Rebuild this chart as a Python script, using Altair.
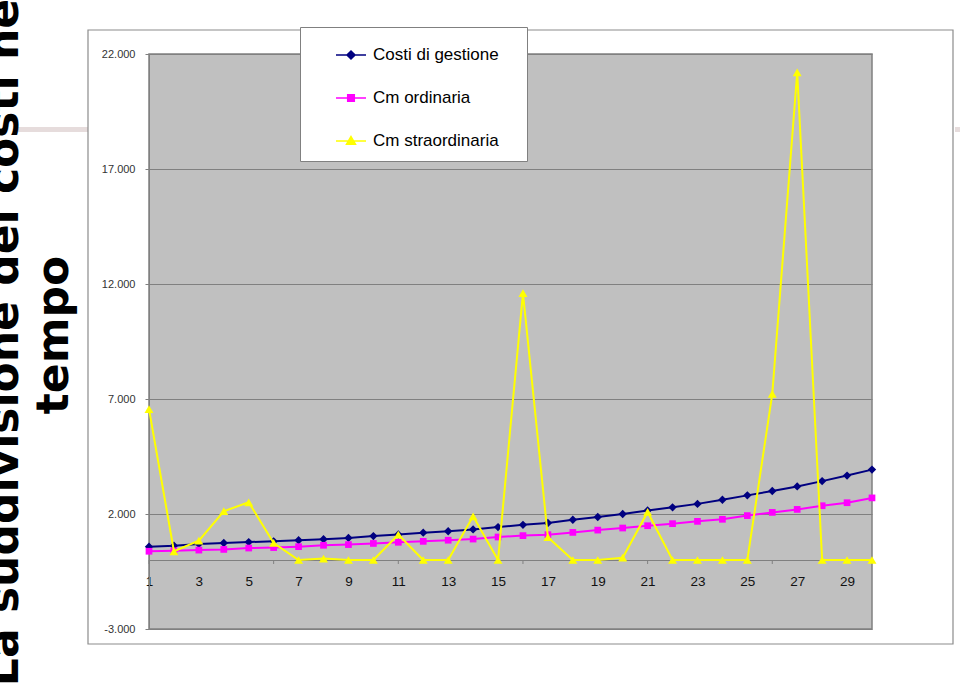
import altair as alt
import pandas as pd

# ---- data ----
anni = list(range(1, 31))
costi_gestione = [580, 620, 700, 740, 780, 810, 860, 900, 960, 1040,
                  1110, 1190, 1250, 1330, 1430, 1530, 1610, 1750, 1870, 2000,
                  2150, 2290, 2440, 2620, 2810, 3000, 3200, 3430, 3670, 3930]
cm_ordinaria = [380, 400, 430, 460, 520, 540, 580, 640, 670, 720,
                770, 810, 860, 910, 1000, 1060, 1100, 1200, 1300, 1390,
                1490, 1580, 1680, 1770, 1930, 2070, 2200, 2360, 2490, 2700]
cm_straordinaria = [6560, 380, 840, 2120, 2510, 740, 0, 60, 0, 0,
                    1100, 0, 0, 1900, 0, 11600, 990, 0, 0, 100,
                    2090, 0, 0, 0, 0, 7220, 21200, 0, 0, 0]

serie = ["Costi di gestione", "Cm ordinaria", "Cm straordinaria"]
colori = ["#000080", "#FF00FF", "#FFFF00"]
forme = ["diamond", "square", "triangle-up"]
forme_legenda = [
    "M-1,0L1,0M0,-0.27L0.27,0L0,0.27L-0.27,0Z",
    "M-1,0L1,0M-0.22,-0.22L0.22,-0.22L0.22,0.22L-0.22,0.22Z",
    "M-1,0L1,0M0,-0.3L0.3,0.22L-0.3,0.22Z",
]
y_ticks = [-3000, 2000, 7000, 12000, 17000, 22000]
x_labels = list(range(1, 30, 2))
x_ticks = [1, 6, 11, 16, 21, 26]
titolo = ["La suddivisione dei costi nel", "tempo"]

df = pd.DataFrame({
    "anno": anni * 3,
    "valore": costi_gestione + cm_ordinaria + cm_straordinaria,
    "serie": [s for s in serie for _ in anni],
})

x_scale = alt.Scale(domain=[1, 30], nice=False, zero=False)
y_scale = alt.Scale(domain=[-3000, 22000], nice=False, zero=False)

x_axis = alt.Axis(values=x_labels, title=None, grid=False, ticks=False,
                  domain=True, domainColor="#808080", domainWidth=1,
                  labelFont="Liberation Sans", labelFontSize=13.5,
                  labelColor="#111111", labelPadding=14, offset=-69,
                  labelFlush=False, labelOverlap=False)
y_axis = alt.Axis(values=y_ticks, title=None, grid=True, gridColor="#808080",
                  gridWidth=1, domain=True, domainColor="#808080",
                  tickColor="#808080", tickSize=4, labelPadding=10,
                  labelFont="Liberation Sans", labelFontSize=11,
                  labelColor="#333333",
                  labelExpr="replace(replace(format(datum.value, ','), ',', '.'), '\u2212', '-')")

X = alt.X("anno:Q", scale=x_scale, axis=x_axis)
Y = alt.Y("valore:Q", scale=y_scale, axis=y_axis)

layers = []

# decorative slide bar
one = pd.DataFrame({"k": [0]})
layers.append(alt.Chart(one).mark_rect(color="#E6DCDC").encode(
    x=alt.value(-131), x2=alt.value(-61), y=alt.value(73), y2=alt.value(78)))
layers.append(alt.Chart(one).mark_rect(color="#E6DCDC").encode(
    x=alt.value(806), x2=alt.value(811), y=alt.value(73), y2=alt.value(78)))

# chart frame
layers.append(alt.Chart(one).mark_rect(fill=None, fillOpacity=0, stroke="#8C8C8C",
                                       strokeWidth=1.2).encode(
    x=alt.value(-61), x2=alt.value(804), y=alt.value(-24), y2=alt.value(590)))

# slide title
layers.append(alt.Chart(one).mark_text(
    text=titolo, angle=270, align="center", baseline="alphabetic",
    font="DejaVu Sans", fontWeight="bold", fontSize=44, lineHeight=50,
    color="#000000").encode(x=alt.value(-131), y=alt.value(281)))

# x axis ticks
layers.append(alt.Chart(pd.DataFrame({"anno": x_ticks})).transform_calculate(
    valore="0").mark_rule(color="#808080", y2Offset=4).encode(
    x=X, y=Y, y2=alt.Y2("valore:Q")))

# series
for s, c, f in zip(serie, colori, forme):
    base = alt.Chart(df).transform_filter(alt.datum.serie == s)
    layers.append(base.mark_line(color=c, strokeWidth=2).encode(x=X, y=Y))
    size = {"diamond": 70, "square": 45, "triangle-up": 80}[f]
    layers.append(base.mark_point(shape=f, filled=True, color=c, opacity=1,
                                  size=size).encode(x=X, y=Y))

# legend only layer (an invisible white dot as title widens the box)
leg = alt.Legend(title=".", titleOrient="right", titleColor="white",
                 titleFontSize=4, titlePadding=14,
                 orient="none", legendX=151, legendY=-27,
                 fillColor="white", strokeColor="#808080", padding=12,
                 symbolOffset=23, labelOffset=6, rowPadding=19,
                 labelFont="Liberation Sans", labelFontSize=17,
                 labelColor="#000000", symbolSize=900, symbolStrokeWidth=1.5,
                 labelLimit=400)
layers.append(alt.Chart(df).transform_filter("false").mark_point(
    filled=True, opacity=1, strokeWidth=1.5).encode(
    x=X, y=Y,
    fill=alt.Fill("serie:N", scale=alt.Scale(domain=serie, range=colori), legend=leg),
    stroke=alt.Stroke("serie:N", scale=alt.Scale(domain=serie, range=colori), legend=leg),
    shape=alt.Shape("serie:N", scale=alt.Scale(domain=serie, range=forme_legenda), legend=leg),
))

chart = alt.layer(*layers).properties(
    width=723, height=575,
    padding={"left": 149, "top": 54, "right": 88, "bottom": 58},
    autosize=alt.AutoSizeParams(type="none"),
    background="white",
).configure_view(fill="#C0C0C0", stroke="#808080", strokeWidth=1.5)

chart.save("out.html", embed_options={"renderer": "svg", "actions": False})
